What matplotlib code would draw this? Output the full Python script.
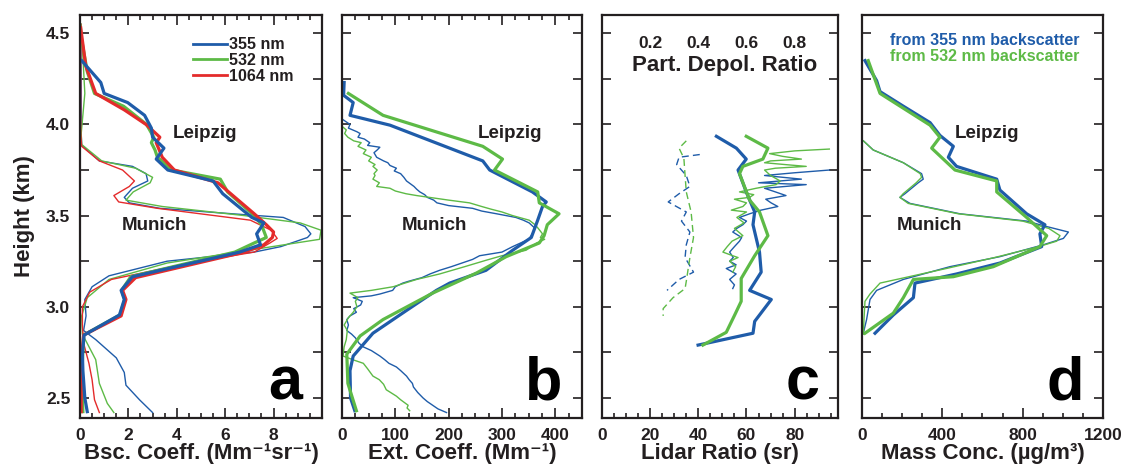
import matplotlib
matplotlib.use("Agg")
import matplotlib.pyplot as plt
from matplotlib.ticker import FixedLocator, MultipleLocator
from matplotlib.lines import Line2D

plt.rcParams['font.family'] = ['Liberation Sans', 'DejaVu Sans']
plt.rcParams['font.weight'] = 'bold'

BLUE = '#1f5ca9'
GREEN = '#5dba46'
RED = '#e42b2b'
TXT = '#231f20'

# --- (a) backscatter coefficient, Mm-1 sr-1 -------------------------------
# Leipzig (thick lines)
a_leip_h355 = [4.35, 4.23, 4.17, 4.12, 4.05, 3.98, 3.93, 3.87, 3.81, 3.75, 3.69, 3.62, 3.49,
               3.46, 3.40, 3.34, 3.30, 3.165, 3.09, 3.04, 2.955, 2.845, 2.74, 2.65, 2.5, 2.425]
a_leip_355 = [0.07, 0.86, 1.0, 1.97, 2.67, 2.95, 3.0, 3.47, 3.15, 3.63, 5.5, 5.9, 7.1,
              7.6, 7.3, 7.46, 6.6, 2.17, 1.7, 1.83, 1.63, 0.17, 0.1, 0.12, 0.2, 0.3]
a_leip_h532 = [4.50, 4.29, 4.17, 4.10, 4.0, 3.93, 3.90, 3.86, 3.82, 3.75, 3.70, 3.63, 3.50,
               3.45, 3.38, 3.35, 3.30, 3.165, 3.09, 3.04, 2.955, 2.845, 2.7, 2.5, 2.425]
a_leip_532 = [0.02, 0.3, 0.6, 1.8, 2.75, 3.05, 2.95, 3.1, 3.2, 3.8, 5.8, 6.1, 7.2,
              7.5, 7.7, 7.2, 6.4, 2.1, 1.72, 1.85, 1.65, 0.15, 0.1, 0.1, 0.12]
a_leip_h1064 = [4.53, 4.32, 4.17, 4.08, 4.0, 3.93, 3.90, 3.82, 3.75, 3.68, 3.51, 3.45,
                3.41, 3.38, 3.34, 3.30, 3.16, 3.09, 3.04, 2.95, 2.845, 2.7, 2.5, 2.425]
a_leip_1064 = [0.03, 0.24, 0.65, 1.83, 2.73, 3.3, 3.15, 3.4, 3.9, 5.7, 7.2, 7.7,
               8.0, 7.95, 7.6, 6.8, 2.3, 1.76, 1.9, 1.7, 0.15, 0.05, 0.05, 0.05]
# Munich (thin lines)
a_mun_h355 = [4.55, 4.2, 3.95, 3.886, 3.80, 3.77, 3.73, 3.69, 3.65, 3.60, 3.57, 3.54, 3.51,
              3.49, 3.44, 3.40, 3.38, 3.33, 3.30, 3.25, 3.17, 3.11, 3.04, 2.95, 2.87, 2.82,
              2.72, 2.64, 2.57, 2.49, 2.42]
a_mun_355 = [0.03, 0.05, 0.05, 0.07, 0.8, 2.17, 2.73, 2.8, 2.17, 1.83, 2.04, 3.3, 6.3,
             8.4, 9.3, 9.54, 9.4, 8.3, 7.2, 3.6, 1.2, 0.5, 0.2, 0.25, 0.15, 0.65,
             1.5, 1.83, 1.9, 2.46, 3.0]
a_mun_h532 = [4.55, 4.17, 3.95, 3.89, 3.80, 3.76, 3.71, 3.68, 3.63, 3.585, 3.55, 3.50, 3.46,
              3.42, 3.37, 3.32, 3.24, 3.15, 3.05, 2.95, 2.85, 2.71, 2.58, 2.47, 2.42]
a_mun_532 = [0.05, 0.2, 0.05, 0.07, 0.9, 2.3, 3.0, 2.9, 2.2, 1.9, 3.4, 6.8, 9.1,
             9.96, 9.9, 7.46, 3.6, 1.2, 0.3, 0.07, 0.1, 0.65, 0.8, 1.13, 1.4]
a_mun_h1064 = [4.55, 3.95, 3.88, 3.80, 3.75, 3.69, 3.66, 3.61, 3.575, 3.54, 3.475, 3.42,
               3.375, 3.35, 3.30, 3.24, 3.15, 3.08, 3.0, 2.9, 2.8, 2.69, 2.6, 2.49, 2.42]
a_mun_1064 = [0.03, 0.03, 0.07, 0.8, 1.76, 2.25, 2.04, 1.4, 1.6, 3.2, 7.04, 7.9,
              8.15, 7.85, 7.2, 4.5, 1.3, 0.4, 0.1, 0.1, 0.15, 0.37, 0.5, 0.6, 0.8]

# --- (b) extinction coefficient, Mm-1 -------------------------------------
b_leip_h355 = [4.23, 4.16, 4.12, 4.05, 3.996, 3.80, 3.75, 3.63, 3.575, 3.55, 3.475, 3.38,
               3.31, 3.2, 3.13, 3.09, 2.98, 2.855, 2.73, 2.65, 2.5, 2.43]
b_leip_355 = [4, 3, 21, 15, 90, 264, 277, 357, 383, 376, 367, 355,
              320, 270, 202, 177, 121, 58, 21, 15, 16, 24]
b_leip_h532 = [4.17, 4.05, 3.88, 3.81, 3.75, 3.63, 3.57, 3.51, 3.45, 3.39, 3.35, 3.275,
               3.185, 3.075, 2.93, 2.84, 2.74, 2.58, 2.43]
b_leip_532 = [12, 77, 264, 301, 286, 367, 370, 407, 385, 379, 370, 308,
              252, 170, 77, 34, 9, 11, 27]
b_mun_h355 = [4.03, 4.0, 3.98, 3.96, 3.95, 3.93, 3.92, 3.90, 3.885, 3.875, 3.86, 3.845,
              3.82, 3.80, 3.79, 3.775, 3.76, 3.745, 3.73, 3.71, 3.69, 3.675, 3.66, 3.645,
              3.63, 3.615, 3.60, 3.585, 3.57, 3.555, 3.54, 3.525, 3.51, 3.49, 3.475, 3.46,
              3.43, 3.40, 3.37, 3.35, 3.33, 3.30, 3.28, 3.26, 3.24, 3.22, 3.20, 3.18, 3.16,
              3.14, 3.13, 3.11, 3.09, 3.07, 3.06, 3.05, 3.03, 3.01, 2.99, 2.97, 2.95, 2.93,
              2.90, 2.87, 2.85, 2.83, 2.80, 2.78, 2.76, 2.73, 2.71, 2.69, 2.67, 2.65, 2.62,
              2.60, 2.58, 2.56, 2.53, 2.5, 2.48, 2.46, 2.44, 2.42]
b_mun_355 = [0, 15, 12, 28, 34, 30, 42, 52, 48, 71, 66, 60,
             65, 78, 86, 90, 102, 98, 110, 116, 121, 128, 135, 140,
             146, 155, 160, 172, 178, 200, 245, 262, 290, 326, 340, 351,
             362, 357, 350, 335, 320, 300, 258, 245, 225, 205, 183, 165, 150,
             125, 114, 100, 95, 71, 55, 21, 38, 35, 22, 27, 15, 9,
             12, 9, 18, 25, 32, 40, 55, 71, 80, 88, 102, 110, 121,
             126, 132, 134, 142, 152, 160, 170, 180, 196]
b_mun_h532 = [3.99, 3.97, 3.95, 3.93, 3.91, 3.90, 3.88, 3.86, 3.84, 3.82, 3.80, 3.78,
              3.77, 3.75, 3.73, 3.72, 3.70, 3.68, 3.66, 3.65, 3.635, 3.62, 3.61, 3.60,
              3.585, 3.57, 3.55, 3.535, 3.52, 3.50, 3.475, 3.45, 3.43, 3.40, 3.38, 3.37,
              3.35, 3.31, 3.28, 3.255, 3.22, 3.18, 3.15, 3.11, 3.09, 3.075, 3.05, 3.03,
              3.00, 2.97, 2.94, 2.90, 2.87, 2.82, 2.78, 2.73, 2.71, 2.69, 2.66, 2.62,
              2.60, 2.575, 2.545, 2.51, 2.49, 2.46, 2.445, 2.43]
b_mun_532 = [0, 8, 5, 11, 22, 36, 30, 45, 40, 55, 50, 62,
             58, 66, 60, 62, 58, 70, 65, 90, 100, 120, 140, 164,
             200, 239, 262, 280, 300, 320, 351, 362, 368, 376, 372, 380,
             365, 345, 300, 270, 230, 183, 140, 96, 55, 15, 30, 25,
             28, 21, 12, 4, 10, 8, 4, 2, 20, 40, 48, 58,
             70, 78, 83, 102, 110, 124, 122, 127]

# --- (c) lidar ratio, sr, and particle depolarization ratio --------------
c_leip_h355 = [3.935, 3.87, 3.81, 3.75, 3.63, 3.52, 3.45, 3.30, 3.19, 3.09, 3.04, 2.92,
               2.855, 2.79]
c_leip_355 = [47.5, 55.8, 59.9, 56.5, 59.9, 63.4, 62.7, 65.4, 66.1, 61.3, 70.3, 63.4,
              62.7, 39.9]
c_leip_h532 = [3.935, 3.87, 3.81, 3.77, 3.73, 3.585, 3.52, 3.39, 3.28, 3.155, 3.03, 2.955,
               2.86, 2.79]
c_leip_532 = [59.9, 68.9, 66.8, 58.5, 57.1, 61.3, 65.4, 68.9, 63.4, 57.8, 57.8, 55.1,
              51.6, 41.9]
c_mun_h532 = [3.865, 3.855, 3.84, 3.825, 3.81, 3.80, 3.79, 3.78, 3.77, 3.76, 3.75, 3.72,
              3.69, 3.67, 3.65, 3.63, 3.615, 3.60, 3.59, 3.57, 3.55, 3.53, 3.52, 3.49,
              3.46, 3.43, 3.39, 3.36, 3.33, 3.30, 3.28, 3.27, 3.25, 3.22, 3.19]
c_mun_532 = [94.4, 80, 69.6, 75, 82.8, 70, 67.5, 76, 84.8, 72, 67.5, 70,
             74, 72.3, 64, 57.1, 63, 61.3, 55, 60, 58.5, 53.7, 60, 56,
             59, 55, 58.5, 54, 52, 50.2, 54.3, 56.5, 53, 55.5, 54.3]
c_mun_h355 = [3.75, 3.735, 3.72, 3.70, 3.68, 3.67, 3.65, 3.63, 3.61, 3.59, 3.57, 3.55,
              3.53, 3.51, 3.49, 3.47, 3.45, 3.43, 3.41, 3.38, 3.36, 3.33, 3.30, 3.27,
              3.25, 3.23, 3.21, 3.18, 3.15, 3.12, 3.10]
c_mun_355 = [94.4, 80, 67.5, 82.8, 65, 84.8, 67.5, 72, 76.4, 68, 70.2, 73,
             66, 61.3, 57.1, 60, 58.5, 56, 54.3, 58, 57.1, 55, 53, 54.5,
             53, 55.7, 51.6, 55.7, 53, 55, 54.3]
c_dep_h532 = [3.91, 3.87, 3.815, 3.72, 3.63, 3.52, 3.45, 3.38, 3.27, 3.14, 3.10, 3.05,
              2.99, 2.95]
c_dep_532 = [0.35, 0.32, 0.34, 0.345, 0.35, 0.37, 0.375, 0.38, 0.365, 0.35, 0.345, 0.295,
             0.254, 0.254]
c_dep_h355 = [3.835, 3.82, 3.78, 3.72, 3.66, 3.62, 3.575, 3.52, 3.47, 3.41, 3.34, 3.27,
              3.19, 3.15, 3.09]
c_dep_355 = [0.406, 0.32, 0.31, 0.35, 0.365, 0.32, 0.275, 0.35, 0.33, 0.365, 0.35, 0.345,
             0.38, 0.32, 0.27]
depol_ticks = [0.2, 0.4, 0.6, 0.8]

# --- (d) mass concentration, ug/m3 ---------------------------------------
d_leip_h355 = [4.35, 4.24, 4.18, 4.10, 4.01, 3.94, 3.88, 3.82, 3.77, 3.70, 3.64, 3.51,
               3.45, 3.40, 3.33, 3.24, 3.18, 3.13, 3.05, 2.955, 2.855]
d_leip_355 = [15, 73, 90, 206, 339, 388, 455, 430, 471, 671, 687, 820,
              911, 886, 895, 687, 471, 264, 256, 156, 65]
d_leip_h532 = [4.35, 4.17, 3.996, 3.93, 3.87, 3.75, 3.69, 3.63, 3.49, 3.39, 3.33, 3.22,
               3.165, 3.15, 3.05, 2.965, 2.855]
d_leip_532 = [31, 90, 339, 388, 347, 463, 671, 671, 820, 920, 886, 654,
              455, 256, 206, 156, 15]
d_mun_h355 = [3.91, 3.86, 3.79, 3.73, 3.70, 3.68, 3.62, 3.60, 3.567, 3.51, 3.47, 3.44,
              3.41, 3.375, 3.34, 3.275, 3.22, 3.15, 3.09, 3.04, 2.93, 2.856]
d_mun_355 = [7, 56, 206, 297, 305, 280, 214, 189, 239, 488, 820, 920,
             1028, 1003, 903, 687, 438, 206, 73, 40, 23, 7]
d_mun_h532 = [3.91, 3.86, 3.79, 3.73, 3.71, 3.68, 3.62, 3.60, 3.567, 3.51, 3.47, 3.43,
              3.39, 3.36, 3.33, 3.27, 3.21, 3.13, 3.07, 3.03, 2.93, 2.85]
d_mun_532 = [7, 56, 206, 290, 297, 270, 205, 189, 230, 480, 800, 930,
             986, 970, 880, 660, 420, 90, 40, 15, 10, 7]

THICK = 2.3
THIN = 1.0
LABEL = dict(fontsize=16, fontweight='bold', color=TXT)

fig = plt.figure(figsize=(11.25, 4.7), dpi=100)
bottom, height = 0.1106, 0.8574
ax_a = fig.add_axes([0.0711, bottom, 0.2151, height])
ax_b = fig.add_axes([0.3040, bottom, 0.2133, height])
ax_c = fig.add_axes([0.5351, bottom, 0.2098, height])
ax_d = fig.add_axes([0.7662, bottom, 0.2142, height])


def style_panel(ax, xlim, majors, minor, top=True, letter=''):
    ax.set_xlim(*xlim)
    ax.set_ylim(2.39, 4.60)
    ax.xaxis.set_major_locator(FixedLocator(majors))
    ax.xaxis.set_minor_locator(MultipleLocator(minor))
    ax.yaxis.set_major_locator(MultipleLocator(0.5))
    ax.yaxis.set_minor_locator(MultipleLocator(0.25))
    ax.tick_params(which='both', direction='in', top=top, right=True, left=True,
                   width=1.2, colors=TXT, labelsize=12.5, pad=7)
    ax.tick_params(axis='x', which='major', length=7)
    ax.tick_params(axis='x', which='minor', length=3.5)
    ax.tick_params(axis='y', which='both', length=6.5)
    for s in ax.spines.values():
        s.set_linewidth(1.6)
        s.set_color(TXT)
    if ax is not ax_a:
        ax.tick_params(axis='y', labelleft=False)
    ax.text(0.92, 0.045, letter, transform=ax.transAxes, ha='right', va='baseline',
            fontsize=44, fontweight='bold', color='black')


# (a)
ax_a.plot(a_mun_355, a_mun_h355, color=BLUE, lw=THIN)
ax_a.plot(a_mun_532, a_mun_h532, color=GREEN, lw=THIN)
ax_a.plot(a_mun_1064, a_mun_h1064, color=RED, lw=THIN)
ax_a.plot(a_leip_532, a_leip_h532, color=GREEN, lw=THICK)
ax_a.plot(a_leip_1064, a_leip_h1064, color=RED, lw=THICK)
ax_a.plot(a_leip_355, a_leip_h355, color=BLUE, lw=THICK)
style_panel(ax_a, (0, 10), [0, 2, 4, 6, 8], 0.5, letter='a')
ax_a.yaxis.set_major_formatter(plt.FormatStrFormatter('%.1f'))
ax_a.set_ylabel('Height (km)', labelpad=8, **LABEL)
ax_a.set_xlabel('Bsc. Coeff. (Mm⁻¹sr⁻¹)', labelpad=0, **LABEL)
handles = [Line2D([], [], color=c, lw=2.0) for c in (BLUE, GREEN, RED)]
ax_a.legend(handles, ['355 nm', '532 nm', '1064 nm'], loc='upper left',
            bbox_to_anchor=(0.467, 0.945), frameon=False, fontsize=11.5,
            handlelength=2.1, handletextpad=0.15, labelspacing=0.05,
            borderpad=0, borderaxespad=0, labelcolor=TXT)
ax_a.text(5.17, 3.952, 'Leipzig', ha='center', va='center', fontsize=13.5, color=TXT)
ax_a.text(3.06, 3.448, 'Munich', ha='center', va='center', fontsize=13.5, color=TXT)

# (b)
ax_b.plot(b_mun_355, b_mun_h355, color=BLUE, lw=THIN)
ax_b.plot(b_mun_532, b_mun_h532, color=GREEN, lw=THIN)
ax_b.plot(b_leip_355, b_leip_h355, color=BLUE, lw=THICK)
ax_b.plot(b_leip_532, b_leip_h532, color=GREEN, lw=THICK)
style_panel(ax_b, (0, 450), [0, 100, 200, 300, 400], 25, letter='b')
ax_b.set_xlabel('Ext. Coeff. (Mm⁻¹)', labelpad=0, **LABEL)
ax_b.text(315, 3.952, 'Leipzig', ha='center', va='center', fontsize=13.5, color=TXT)
ax_b.text(173, 3.448, 'Munich', ha='center', va='center', fontsize=13.5, color=TXT)

# (c) lidar ratio on the bottom axis, depolarization ratio on the top one
ax_c.plot(c_mun_355, c_mun_h355, color=BLUE, lw=THIN)
ax_c.plot(c_mun_532, c_mun_h532, color=GREEN, lw=THIN)
ax_c.plot(c_leip_355, c_leip_h355, color=BLUE, lw=THICK)
ax_c.plot(c_leip_532, c_leip_h532, color=GREEN, lw=THICK)
ax_c.plot([v * 100 for v in c_dep_355], c_dep_h355, color=BLUE, lw=THIN, ls=(0, (5, 3)))
ax_c.plot([v * 100 for v in c_dep_532], c_dep_h532, color=GREEN, lw=THIN, ls=(0, (5, 3)))
style_panel(ax_c, (0, 98), [0, 20, 40, 60, 80], 5, top=False, letter='c')
ax_c.set_xlabel('Lidar Ratio (sr)', labelpad=0, **LABEL)
sec = ax_c.secondary_xaxis('top', functions=(lambda x: x / 100, lambda x: x * 100))
sec.set_xticks(depol_ticks)
sec.set_xticklabels([f'{t:.1f}' for t in depol_ticks])
sec.tick_params(length=0, pad=-26, labelsize=12.5, colors=TXT)
sec.spines['top'].set_visible(False)
ax_c.text(0.52, 0.876, 'Part. Depol. Ratio', transform=ax_c.transAxes, ha='center',
          va='center', fontsize=16, color=TXT)

# (d)
ax_d.plot(d_mun_355, d_mun_h355, color=BLUE, lw=THIN)
ax_d.plot(d_mun_532, d_mun_h532, color=GREEN, lw=THIN)
ax_d.plot(d_leip_355, d_leip_h355, color=BLUE, lw=THICK)
ax_d.plot(d_leip_532, d_leip_h532, color=GREEN, lw=THICK)
style_panel(ax_d, (0, 1200), [0, 400, 800, 1200], 100, top=False, letter='d')
ax_d.set_xlabel('Mass Conc. (µg/m³)', labelpad=0, **LABEL)
ax_d.text(625, 3.952, 'Leipzig', ha='center', va='center', fontsize=13.5, color=TXT)
ax_d.text(336, 3.448, 'Munich', ha='center', va='center', fontsize=13.5, color=TXT)
ax_d.text(0.116, 0.938, 'from 355 nm backscatter', transform=ax_d.transAxes,
          ha='left', va='center', fontsize=11.5, color=BLUE)
ax_d.text(0.116, 0.896, 'from 532 nm backscatter', transform=ax_d.transAxes,
          ha='left', va='center', fontsize=11.5, color=GREEN)

fig.savefig('out.png', dpi=100)
